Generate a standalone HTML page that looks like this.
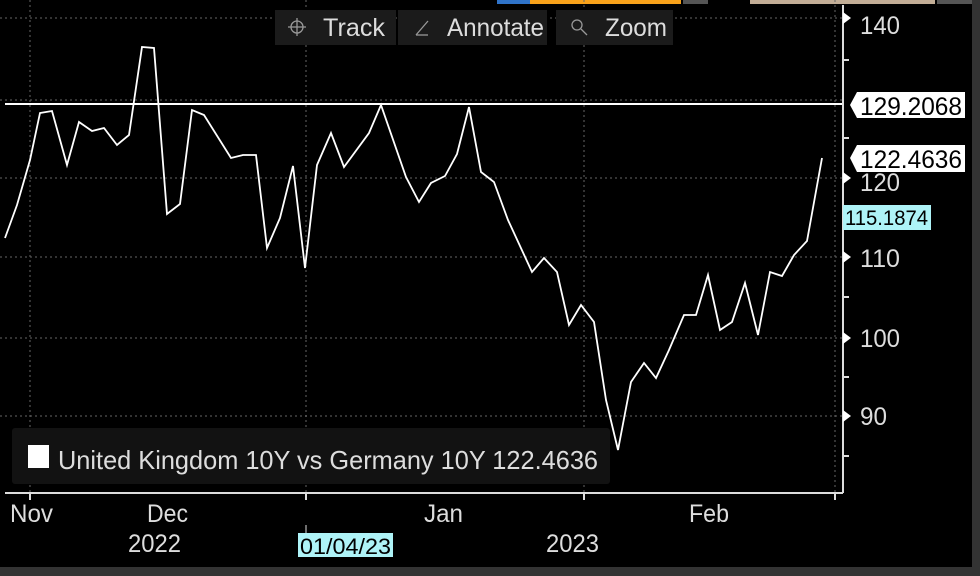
<!DOCTYPE html>
<html><head><meta charset="utf-8"><style>
body{margin:0;background:#000;width:980px;height:576px;overflow:hidden;font-family:"Liberation Sans Narrow","Liberation Sans",sans-serif}
</style></head><body>
<svg width="980" height="576" xmlns="http://www.w3.org/2000/svg" style="position:absolute;left:0;top:0">
<rect width="980" height="576" fill="#000"/>
<rect x="497" y="0" width="33" height="4" fill="#2f73c9"/>
<rect x="530" y="0" width="151" height="4" fill="#f7a11a"/>
<rect x="683" y="0" width="25" height="4" fill="#555"/>
<rect x="750" y="0" width="185" height="4" fill="#c2ad96"/>
<rect x="937" y="0" width="38" height="4" fill="#555"/>
<g stroke="#666" stroke-width="1" stroke-dasharray="2,3">
<line x1="0" y1="18" x2="843" y2="18"/><line x1="0" y1="100" x2="843" y2="100"/>
<line x1="0" y1="178" x2="843" y2="178"/><line x1="0" y1="257" x2="843" y2="257"/>
<line x1="0" y1="338" x2="843" y2="338"/><line x1="0" y1="416" x2="843" y2="416"/>
<line x1="30" y1="0" x2="30" y2="493"/><line x1="306" y1="0" x2="306" y2="493"/>
<line x1="584" y1="0" x2="584" y2="493"/><line x1="835" y1="0" x2="835" y2="493"/>
</g>
<g fill="#1b1b1b"><rect x="275" y="10" width="121" height="35"/><rect x="398" y="10" width="149" height="35"/><rect x="556" y="10" width="117" height="35"/></g>
<g fill="#ddd" font-size="25">
<text x="323" y="36" textLength="62" lengthAdjust="spacingAndGlyphs">Track</text><text x="447" y="36" textLength="97" lengthAdjust="spacingAndGlyphs">Annotate</text><text x="605" y="36" textLength="62" lengthAdjust="spacingAndGlyphs">Zoom</text></g>
<g stroke="#999" fill="none" stroke-width="1.3"><circle cx="297" cy="27" r="6"/><line x1="297" y1="18" x2="297" y2="36"/><line x1="288" y1="27" x2="306" y2="27"/>
<line x1="416" y1="35" x2="428" y2="21"/><line x1="416" y1="35" x2="428" y2="35"/>
<circle cx="577" cy="25" r="5"/><line x1="581" y1="29" x2="587" y2="35"/></g>
<line x1="5" y1="104" x2="843" y2="104" stroke="#fff" stroke-width="2"/>
<polyline fill="none" stroke="#fff" stroke-width="1.8" points="5,238 17,205 30,160 40,113 52,111 67,165 79,122 92,131 104,128 117,145 129,135 142,47 154,48 167,214 180,204 192,110 204,115 231,158 243,155 256,155 267,248 280,218 293,166 305,268 317,165 331,133 344,167 369,133 381,105 406,177 419,202 431,183 445,176 457,154 469,107 481,172 494,182 508,220 532,272 544,258 557,272 569,325 581,305 594,322 606,400 618,450 631,382 644,363 656,378 669,350 684,315 696,315 708,275 720,330 732,322 745,283 758,335 770,272 782,276 794,255 807,241 822,158"/>
<rect x="12" y="428" width="598" height="56" rx="3" fill="#121212"/>
<rect x="28" y="445" width="21" height="23" fill="#fff"/>
<text x="58" y="469" fill="#ddd" font-size="26" textLength="540" lengthAdjust="spacingAndGlyphs">United Kingdom 10Y vs Germany 10Y 122.4636</text>
<g stroke="#ddd" stroke-width="2"><line x1="5" y1="493" x2="843" y2="493"/><line x1="843" y1="5" x2="843" y2="493"/></g>
<g stroke="#ddd" stroke-width="2"><line x1="30" y1="493" x2="30" y2="500"/><line x1="306" y1="493" x2="306" y2="500"/><line x1="584" y1="493" x2="584" y2="500"/><line x1="835" y1="493" x2="835" y2="500"/>
<line x1="843" y1="60" x2="849" y2="60"/><line x1="843" y1="138" x2="849" y2="138"/><line x1="843" y1="297" x2="849" y2="297"/><line x1="843" y1="377" x2="849" y2="377"/><line x1="843" y1="456" x2="849" y2="456"/></g>
<g fill="#fff"><polygon points="843,12 851,18 843,24"/><polygon points="843,172 851,178 843,184"/><polygon points="843,251 851,257 843,263"/><polygon points="843,332 851,338 843,344"/><polygon points="843,410 851,416 843,422"/></g>
<g fill="#ddd" font-size="25"><text x="860" y="34" textLength="40" lengthAdjust="spacingAndGlyphs">140</text><text x="860" y="191" textLength="40" lengthAdjust="spacingAndGlyphs">120</text><text x="860" y="267" textLength="40" lengthAdjust="spacingAndGlyphs">110</text><text x="860" y="347" textLength="40" lengthAdjust="spacingAndGlyphs">100</text><text x="860" y="425" textLength="27" lengthAdjust="spacingAndGlyphs">90</text></g>
<polygon points="857,92 965,92 965,118 857,118 850,105" fill="#fff"/>
<text x="860" y="115" fill="#000" font-size="25" textLength="102" lengthAdjust="spacingAndGlyphs">129.2068</text>
<polygon points="857,145 965,145 965,172 857,172 850,158" fill="#fff"/>
<text x="860" y="168" fill="#000" font-size="25" textLength="102" lengthAdjust="spacingAndGlyphs">122.4636</text>
<rect x="843" y="205" width="88" height="25" fill="#aef3f7"/>
<text x="845" y="225" fill="#000" font-size="21" textLength="83" lengthAdjust="spacingAndGlyphs">115.1874</text>
<g fill="#ddd" font-size="25"><text x="10" y="522" textLength="43" lengthAdjust="spacingAndGlyphs">Nov</text><text x="147" y="522" textLength="41" lengthAdjust="spacingAndGlyphs">Dec</text><text x="424" y="522" textLength="39" lengthAdjust="spacingAndGlyphs">Jan</text><text x="689" y="522" textLength="40" lengthAdjust="spacingAndGlyphs">Feb</text>
<text x="128" y="552" textLength="53" lengthAdjust="spacingAndGlyphs">2022</text><text x="546" y="552" textLength="53" lengthAdjust="spacingAndGlyphs">2023</text></g>
<line x1="306" y1="525" x2="306" y2="533" stroke="#ddd"/>
<rect x="298" y="533" width="95" height="24" fill="#aef3f7"/>
<text x="300" y="554" fill="#000" font-size="22" textLength="91" lengthAdjust="spacingAndGlyphs">01/04/23</text>
<rect x="0" y="567" width="980" height="9" fill="#333"/>
<rect x="972" y="0" width="8" height="576" fill="#333"/>
</svg>
</body></html>
